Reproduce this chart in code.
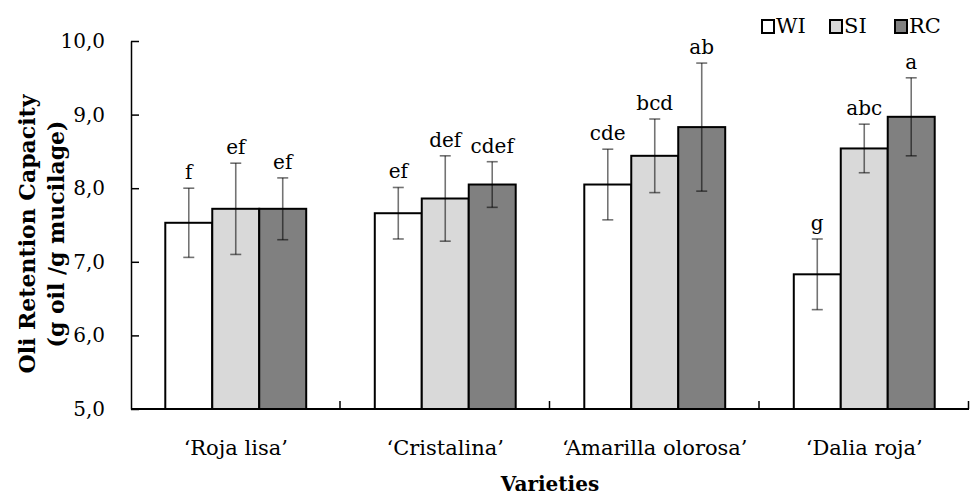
<!DOCTYPE html>
<html>
<head>
<meta charset="utf-8">
<script src="https://cdn.jsdelivr.net/npm/d3@7"></script>
<style>
  body { margin: 0; background: #fff; }
  svg text { font-family: "DejaVu Serif", "Liberation Serif", serif; fill: #000; }
</style>
</head>
<body>
<div id="chart"></div>
<script>
//categories and series
var categories = ["\u2018Roja lisa\u2019", "\u2018Cristalina\u2019", "\u2018Amarilla olorosa\u2019", "\u2018Dalia roja\u2019"];
var seriesNames = ["WI", "SI", "RC"];

//values
var wiValues = [7.53, 7.66, 8.05, 6.83];
var siValues = [7.72, 7.86, 8.44, 8.54];
var rcValues = [7.72, 8.05, 8.83, 8.97];

//standard deviations
var wiErrors = [0.47, 0.35, 0.48, 0.48];
var siErrors = [0.62, 0.58, 0.50, 0.33];
var rcErrors = [0.42, 0.31, 0.87, 0.53];

//significance letters
var wiLetters = ["f", "ef", "cde", "g"];
var siLetters = ["ef", "def", "bcd", "abc"];
var rcLetters = ["ef", "cdef", "ab", "a"];

//y tick labels
var yTicks = [5, 6, 7, 8, 9, 10];
var yTickLabels = ["5,0", "6,0", "7,0", "8,0", "9,0", "10,0"];

var colors = { WI: "#ffffff", SI: "#d9d9d9", RC: "#808080" };

var values = { WI: wiValues, SI: siValues, RC: rcValues };
var errors = { WI: wiErrors, SI: siErrors, RC: rcErrors };
var letters = { WI: wiLetters, SI: siLetters, RC: rcLetters };

//build flat data
var data = [];
categories.forEach(function(cat, i) {
  seriesNames.forEach(function(s) {
    data.push({ category: cat, series: s, value: values[s][i], err: errors[s][i], letter: letters[s][i] });
  });
});

var width = 970;
var height = 495;
var margin = { top: 41, right: 1, bottom: 86, left: 131 };

var svg = d3
  .select("#chart")
  .append("svg")
  .attr("width", width)
  .attr("height", height);

//scales
var x0 = d3
  .scaleBand()
  .domain(categories)
  .range([margin.left, width - margin.right])
  .paddingInner(0)
  .paddingOuter(0);

var x1 = d3
  .scaleBand()
  .domain(seriesNames)
  .range([0, x0.bandwidth()])
  .paddingInner(0)
  .paddingOuter(0.73);

var y = d3
  .scaleLinear()
  .domain([5, 10])
  .range([height - margin.bottom, margin.top]);

//bars
svg
  .append("g")
  .selectAll("rect")
  .data(data)
  .enter()
  .append("rect")
  .attr("x", function(d) { return x0(d.category) + x1(d.series); })
  .attr("y", function(d) { return y(d.value); })
  .attr("width", x1.bandwidth())
  .attr("height", function(d) { return y(5) - y(d.value); })
  .attr("fill", function(d) { return colors[d.series]; })
  .attr("stroke", "#000")
  .attr("stroke-width", 2);

//error bars
var errG = svg.append("g").attr("stroke", "rgba(0,0,0,0.55)").attr("stroke-width", 1.6);
var capHalf = 5.5;
data.forEach(function(d) {
  var cx = x0(d.category) + x1(d.series) + x1.bandwidth() / 2;
  var yTop = y(d.value + d.err);
  var yBot = y(d.value - d.err);
  errG.append("line").attr("x1", cx).attr("x2", cx).attr("y1", yTop).attr("y2", yBot);
  errG.append("line").attr("x1", cx - capHalf).attr("x2", cx + capHalf).attr("y1", yTop).attr("y2", yTop);
  errG.append("line").attr("x1", cx - capHalf).attr("x2", cx + capHalf).attr("y1", yBot).attr("y2", yBot);
});

//letters
svg
  .append("g")
  .selectAll("text")
  .data(data)
  .enter()
  .append("text")
  .attr("x", function(d) { return x0(d.category) + x1(d.series) + x1.bandwidth() / 2; })
  .attr("y", function(d) { return y(d.value + d.err) - 9; })
  .attr("text-anchor", "middle")
  .attr("font-size", 20)
  .text(function(d) { return d.letter; });

//y axis
var yAxis = d3
  .axisLeft(y)
  .tickValues(yTicks)
  .tickFormat(function(d, i) { return yTickLabels[i]; })
  .tickSizeInner(-8)
  .tickSizeOuter(0)
  .tickPadding(26);

var yG = svg
  .append("g")
  .attr("transform", "translate(" + margin.left + ",0)")
  .call(yAxis);
yG.selectAll("line").attr("stroke", "#000").attr("stroke-width", 1.5);
yG.select(".domain").attr("stroke", "#000").attr("stroke-width", 1.5);
yG.selectAll("text")
  .attr("font-size", 20)
  .attr("font-family", "DejaVu Serif, serif")
  .attr("fill", "#000");

//x axis with boundary ticks
var xG = svg.append("g");
xG.append("line")
  .attr("x1", margin.left)
  .attr("x2", width - margin.right)
  .attr("y1", y(5))
  .attr("y2", y(5))
  .attr("stroke", "#000")
  .attr("stroke-width", 2);

var bounds = categories.map(function(c) { return x0(c); }).concat([x0.range()[1]]);
xG.selectAll(".bt")
  .data(bounds.slice(1))
  .enter()
  .append("line")
  .attr("x1", function(d) { return d - 0.5; })
  .attr("x2", function(d) { return d - 0.5; })
  .attr("y1", y(5))
  .attr("y2", y(5) - 8)
  .attr("stroke", "#000")
  .attr("stroke-width", 1.5);

xG.selectAll(".cat")
  .data(categories)
  .enter()
  .append("text")
  .attr("x", function(d) { return x0(d) + x0.bandwidth() / 2; })
  .attr("y", 455)
  .attr("text-anchor", "middle")
  .attr("font-size", 21)
  .text(function(d) { return d; });

//axis titles
svg
  .append("text")
  .attr("x", (margin.left + width - margin.right) / 2)
  .attr("y", 491)
  .attr("text-anchor", "middle")
  .attr("font-size", 20)
  .attr("font-weight", "bold")
  .text("Varieties");

var yTitle = svg
  .append("g")
  .attr("transform", "translate(0,234) rotate(-90)");
yTitle
  .append("text")
  .attr("x", 0)
  .attr("y", 35)
  .attr("text-anchor", "middle")
  .attr("font-size", 22)
  .attr("font-weight", "bold")
  .text("Oli Retention Capacity");
yTitle
  .append("text")
  .attr("x", 0)
  .attr("y", 64)
  .attr("text-anchor", "middle")
  .attr("font-size", 22)
  .attr("font-weight", "bold")
  .text("(g oil /g mucilage)");

//legend
var legendX = [762, 830, 895];
var legend = svg
  .append("g")
  .selectAll("g")
  .data(seriesNames)
  .enter()
  .append("g")
  .attr("transform", function(d, i) { return "translate(" + legendX[i] + ",20)"; });
legend
  .append("rect")
  .attr("width", 12)
  .attr("height", 13)
  .attr("fill", function(d) { return colors[d]; })
  .attr("stroke", "#000")
  .attr("stroke-width", 2);
legend
  .append("text")
  .attr("x", 14)
  .attr("y", 13)
  .attr("font-size", 21)
  .text(function(d) { return d; });
</script>
</body>
</html>
